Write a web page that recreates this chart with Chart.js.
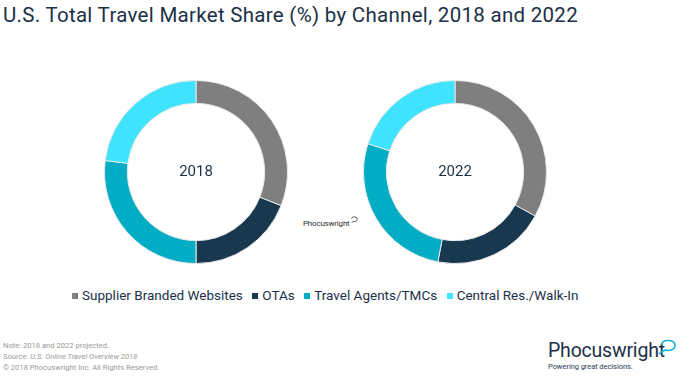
<!DOCTYPE html>
<html><head><meta charset="utf-8">
<script src="https://cdn.jsdelivr.net/npm/chart.js@4.4.1/dist/chart.umd.min.js"></script>
<style>
html,body{margin:0;padding:0;background:#fff;width:680px;height:377px;overflow:hidden;font-family:Roboto,"Noto Sans",sans-serif;}
#title{position:absolute;left:3px;top:3px;font-size:20.5px;color:#1b3048;white-space:nowrap;letter-spacing:0.29px;}
.donut{position:absolute;width:184px;height:184px;}
#legend{position:absolute;left:72px;top:287px;font-size:13.5px;color:#1b3048;white-space:nowrap;}
#legend span.item{margin-right:9.5px;}
#legend i{display:inline-block;width:6px;height:6px;margin-right:4px;vertical-align:1px;}
#foot{position:absolute;left:3px;top:340px;font-size:7.6px;color:#9a9a9a;line-height:11px;}
#wm{position:absolute;left:303px;top:216px;font-size:8px;color:#333;letter-spacing:-0.2px;}
#logo{position:absolute;left:548px;top:340px;color:#1b3048;}
#logo .n{font-size:19.5px;letter-spacing:-0.2px;line-height:22px;}
#logo .s{font-size:7.6px;line-height:10px;color:#2a4058;letter-spacing:-0.1px;}
</style></head>
<body>
<div id="title">U.S. Total Travel Market Share (%) by Channel, 2018 and 2022</div>
<canvas id="c1" class="donut" style="left:103.5px;top:80px"></canvas>
<canvas id="c2" class="donut" style="left:362.5px;top:80px"></canvas>
<div id="legend"></div>
<div id="wm">Phocuswright<svg width="8" height="8" viewBox="0 0 10 10" style="vertical-align:2px"><path d="M2 8 Q5 6 7 7 Q9 6 9 4 Q9 1 5.5 1 Q2 1 2 3.5" fill="none" stroke="#333" stroke-width="1"/></svg></div>
<div id="foot">Note: 2018 and 2022 projected.<br>Source: <i>U.S. Online Travel Overview 2018</i><br>© 2018 Phocuswright Inc. All Rights Reserved.</div>
<div id="logo"><div class="n">Phocuswright</div><div class="s">Powering great decisions.</div>
<svg width="20" height="16" viewBox="0 0 20 16" style="position:absolute;left:109px;top:-1px"><path d="M2 15 Q7 10 11 11.5 Q18 11 18 6.5 Q18 1.5 11 1.5 Q5 1.5 4.5 6" fill="none" stroke="#19b5d6" stroke-width="1.7"/></svg></div>
<script>
const categories = ["Supplier Branded Websites", "OTAs", "Travel Agents/TMCs", "Central Res./Walk-In"];
const years = ["2018", "2022"];
const share2018 = [31, 19, 27, 23];
const share2022 = [33, 20, 27, 20];
const colors = ["#7f7f7f", "#17384f", "#00adc5", "#3fe3fd"];

const leg = document.getElementById('legend');
categories.forEach((c, i) => {
  const s = document.createElement('span'); s.className = 'item';
  s.innerHTML = '<i style="background:' + colors[i] + '"></i>' + c;
  leg.appendChild(s);
});

const centerText = {
  id: 'centerText',
  afterDraw(chart, args, opts) {
    const {ctx} = chart;
    const m = chart.getDatasetMeta(0).data[0];
    ctx.save();
    ctx.font = '15px Roboto';
    ctx.fillStyle = '#1b3048';
    ctx.textAlign = 'center';
    ctx.textBaseline = 'middle';
    ctx.fillText(opts.text, m.x, m.y);
    ctx.restore();
  }
};

function make(id, data, label) {
  new Chart(document.getElementById(id), {
    type: 'doughnut',
    data: { labels: categories, datasets: [{ data: data, backgroundColor: colors, borderColor: '#e8e8e8', borderWidth: 1 }] },
    options: {
      responsive: false, animation: false, cutout: '75%',
      layout: { padding: 0 },
      plugins: { legend: { display: false }, tooltip: { enabled: false }, centerText: { text: label } }
    },
    plugins: [centerText]
  });
}
make('c1', share2018, years[0]);
make('c2', share2022, years[1]);
</script>
</body></html>
